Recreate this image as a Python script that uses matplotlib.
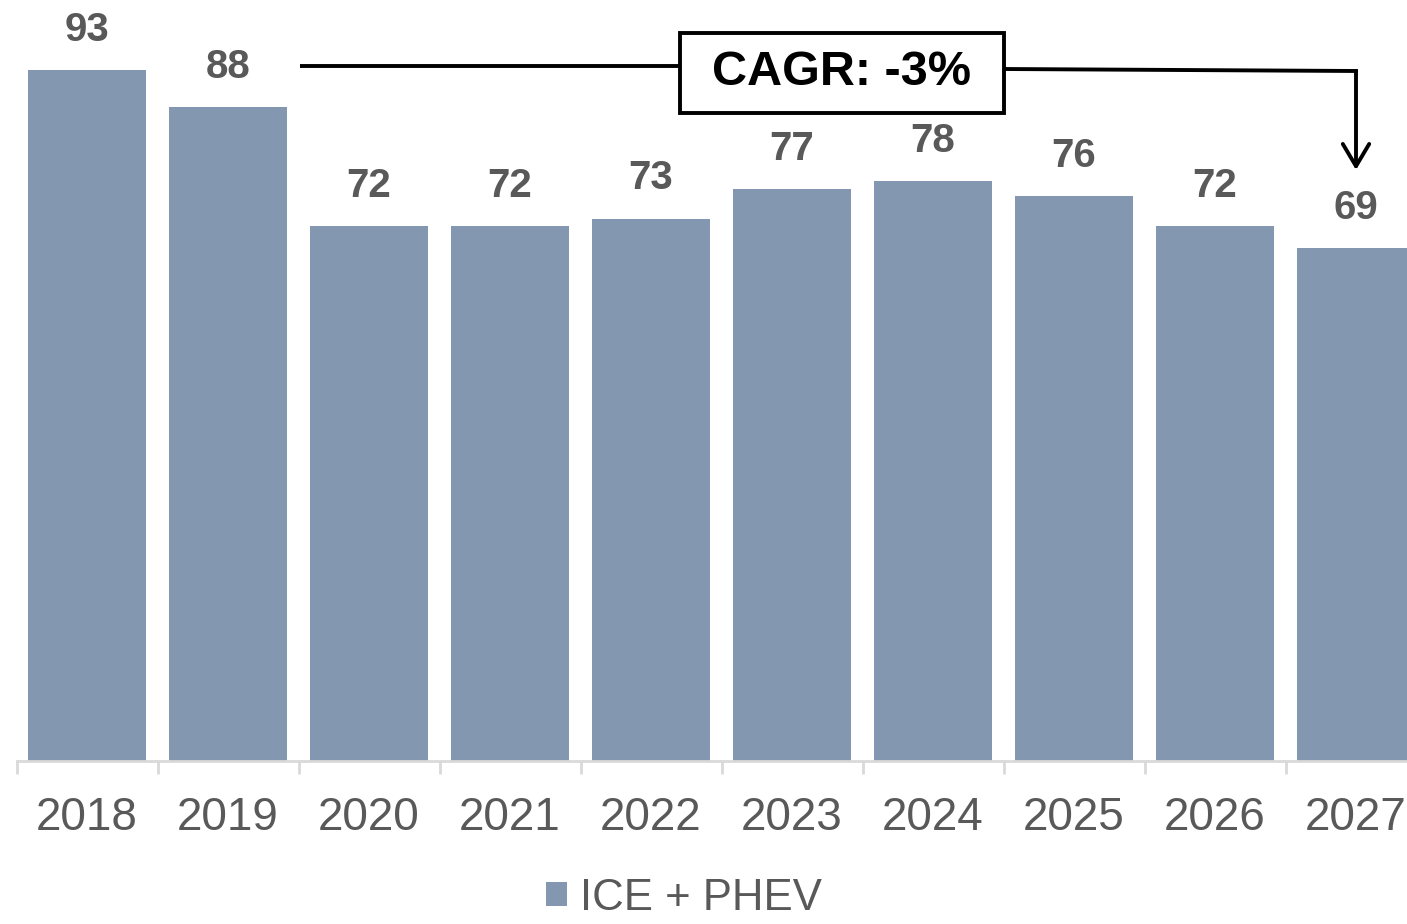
import matplotlib
matplotlib.use("Agg")
import matplotlib.pyplot as plt
from matplotlib.patches import Rectangle

years = ["2018", "2019", "2020", "2021", "2022", "2023", "2024", "2025", "2026", "2027"]
values = [93, 88, 72, 72, 73, 77, 78, 76, 72, 69]
series_name = "ICE + PHEV"
cagr_text = "CAGR: -3%"

plt.rcParams['font.family'] = ['Liberation Sans', 'DejaVu Sans']

W, H = 1407, 924
fig = plt.figure(figsize=(W / 100, H / 100), dpi=100)
ax = fig.add_axes([0, 163 / H, 1, 761 / H])

bar_color = "#8497b0"
text_gray = "#595959"

PX_UNIT = 141.0   # pixels per category
X0 = 87.0         # pixel position of first category centre
Y0 = 761.0        # pixel row of the baseline
PX_VAL = 7.43     # pixels per value unit

x = list(range(len(years)))
ax.bar(x, values, width=0.837, color=bar_color, zorder=2)

# spines / ticks
for s in ["top", "right", "left"]:
    ax.spines[s].set_visible(False)
ax.spines["bottom"].set_color("#d9d9d9")
ax.spines["bottom"].set_linewidth(2)
ax.spines["bottom"].set_bounds(-0.5, len(years))
ax.set_yticks([])
ax.set_xticks(x)
ax.set_xticklabels(years, fontsize=33, color=text_gray)
ax.tick_params(axis="x", which="major", length=0, pad=25)
ax.set_xticks([i - 0.5 for i in range(len(years) + 1)], minor=True)
ax.tick_params(axis="x", which="minor", length=9, width=2, color="#d9d9d9")

# data labels
for xi, v in zip(x, values):
    ax.annotate(f"{v}", xy=(xi, v), xytext=(0, 21), textcoords="offset points",
                ha="center", va="baseline", fontsize=29, fontweight="bold",
                color=text_gray)

# CAGR annotation (pixel positions converted to data coordinates)
def px_x(p):
    return (p - X0) / PX_UNIT

def px_y(p):
    return (Y0 - p) / PX_VAL

lw = 2.8
box = Rectangle((px_x(680), px_y(113)), px_x(1004) - px_x(680), px_y(33) - px_y(113),
                facecolor="white", edgecolor="black", linewidth=lw, zorder=5)
ax.add_patch(box)
ax.text(px_x(842), px_y(73), cagr_text, ha="center", va="center", fontsize=35,
        fontweight="bold", color="black", zorder=6)
ax.plot([px_x(300), px_x(680)], [px_y(66), px_y(66)], color="black", lw=lw,
        solid_capstyle="butt", zorder=4)
ax.plot([px_x(1004), len(years) - 1], [px_y(69), px_y(71)], color="black", lw=lw,
        solid_capstyle="projecting", solid_joinstyle="miter", zorder=4)
ax.annotate("", xy=(len(years) - 1, px_y(170)), xytext=(len(years) - 1, px_y(71)),
            arrowprops=dict(arrowstyle="->,head_length=16,head_width=9.5",
                            mutation_scale=1, color="black", lw=lw,
                            shrinkA=0, shrinkB=0), zorder=4)

# limits last (set_xticks / plotting may expand the view)
ax.set_xlim(-X0 / PX_UNIT, (W - X0) / PX_UNIT)
ax.set_ylim(0, Y0 / PX_VAL)

# legend
handle = Rectangle((0, 0), 1, 1, facecolor=bar_color, edgecolor="none")
fig.legend([handle], [series_name], loc="center", bbox_to_anchor=(684 / W, 0.028),
           frameon=False, fontsize=31.5, labelcolor=text_gray, handlelength=0.48,
           handleheight=0.48, handletextpad=0.3, borderpad=0, borderaxespad=0)

fig.savefig("out.png", dpi=100)
